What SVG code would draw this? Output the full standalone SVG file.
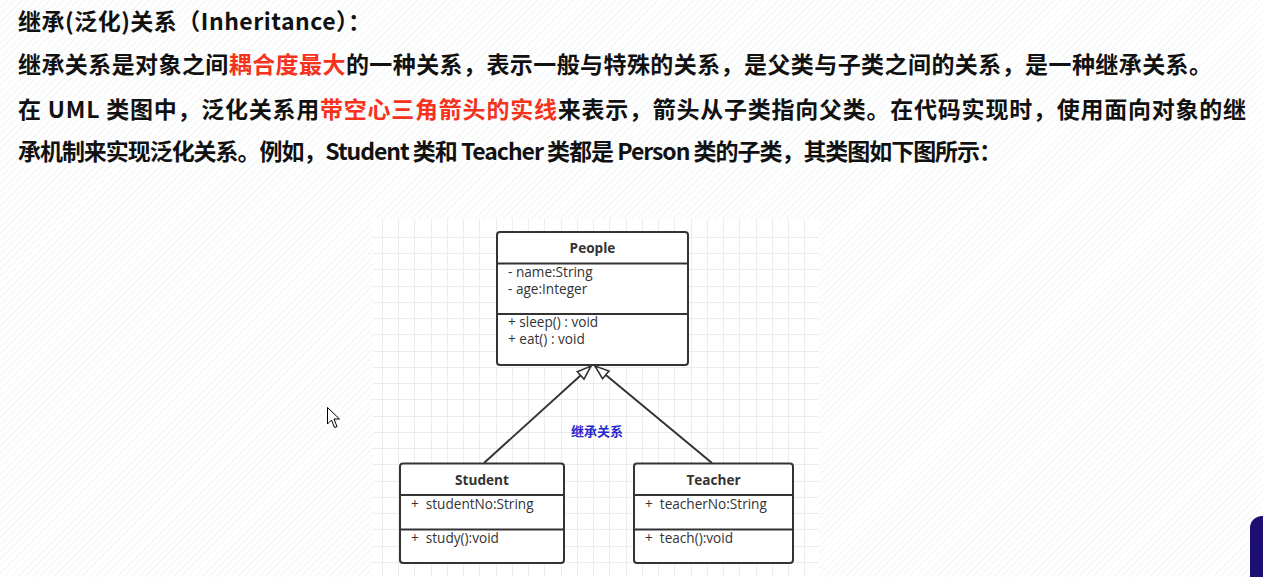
<svg xmlns="http://www.w3.org/2000/svg" width="1263" height="577" viewBox="0 0 1263 577">
<style>
.h{font-family:"Noto Sans CJK SC","Microsoft YaHei",sans-serif;font-weight:bold;font-size:23px;fill:#111}
.r{fill:#f5321c}
.box{fill:#fff;stroke:#333;stroke-width:2}
.div{stroke:#333;stroke-width:2}
.t{font-family:"Open Sans","Noto Sans",sans-serif;font-size:13.6px;fill:#333}
.b{font-weight:bold;text-anchor:middle}
.conn{stroke:#333;stroke-width:2;fill:none}
.grid{stroke:#ececec;stroke-width:1}
</style>
<defs>
<pattern id="hatch" width="5" height="5" patternUnits="userSpaceOnUse" patternTransform="rotate(45)">
<line x1="0" y1="0" x2="0" y2="5" stroke="#eef2f2" stroke-width="1.5"/>
</pattern>
<marker id="tri" markerUnits="userSpaceOnUse" markerWidth="20" markerHeight="16" refX="15" refY="6" orient="auto">
<path d="M1,1 L15,6 L1,11 Z" fill="#fff" stroke="#333" stroke-width="1.6"/>
</marker>
</defs>
<rect width="1263" height="577" fill="#fff"/>
<rect width="1263" height="577" fill="url(#hatch)"/>
<g id="heading">
<text class="h" x="18" y="30" textLength="353">继承(泛化)关系（Inheritance）：</text>
<text class="h" x="18" y="73" textLength="1194">继承关系是对象之间<tspan class="r">耦合度最大</tspan>的一种关系，表示一般与特殊的关系，是父类与子类之间的关系，是一种继承关系。</text>
<text class="h" x="18" y="118" textLength="1228">在 UML 类图中，泛化关系用<tspan class="r">带空心三角箭头的实线</tspan>来表示，箭头从子类指向父类。在代码实现时，使用面向对象的继</text>
<text class="h" x="18" y="160" textLength="984">承机制来实现泛化关系。例如，Student 类和 Teacher 类都是 Person 类的子类，其类图如下图所示：</text>
</g>
<g id="canvas">
<rect x="373" y="219" width="446" height="358" fill="#fff"/>
<path class="grid" d="M382.5,219V577M398.5,219V577M414.5,219V577M431.5,219V577M447.5,219V577M463.5,219V577M479.5,219V577M496.5,219V577M512.5,219V577M528.5,219V577M544.5,219V577M561.5,219V577M577.5,219V577M593.5,219V577M609.5,219V577M626.5,219V577M642.5,219V577M658.5,219V577M674.5,219V577M691.5,219V577M707.5,219V577M723.5,219V577M739.5,219V577M756.5,219V577M772.5,219V577M788.5,219V577M804.5,219V577
M373,237.5H819M373,253.5H819M373,269.5H819M373,286.5H819M373,302.5H819M373,318.5H819M373,334.5H819M373,351.5H819M373,367.5H819M373,383.5H819M373,399.5H819M373,416.5H819M373,432.5H819M373,448.5H819M373,464.5H819M373,481.5H819M373,497.5H819M373,513.5H819M373,529.5H819M373,546.5H819M373,562.5H819"/>
</g>
<g id="connectors">
<line class="conn" x1="484" y1="463" x2="591" y2="366" marker-end="url(#tri)"/>
<line class="conn" x1="712" y1="463" x2="595" y2="366" marker-end="url(#tri)"/>
<text x="597" y="436" font-family="Noto Sans CJK SC,sans-serif" font-size="13" font-weight="bold" fill="#2626d0" text-anchor="middle">继承关系</text>
</g>
<g id="People">
<rect class="box" x="497" y="232" width="191" height="133" rx="3"/>
<line class="div" x1="497" y1="263.5" x2="688" y2="263.5"/>
<line class="div" x1="497" y1="314" x2="688" y2="314"/>
<text class="t b" x="592.5" y="253">People</text>
<text class="t" x="508" y="277">- name:String</text>
<text class="t" x="508" y="294">- age:Integer</text>
<text class="t" x="508" y="327">+ sleep() : void</text>
<text class="t" x="508" y="344">+ eat() : void</text>
</g>
<g id="Student">
<rect class="box" x="400" y="463.5" width="164" height="99.5" rx="3"/>
<line class="div" x1="400" y1="495" x2="564" y2="495"/>
<line class="div" x1="400" y1="529.5" x2="564" y2="529.5"/>
<text class="t b" x="482" y="485">Student</text>
<text class="t" x="411" y="509">+<tspan dx="7">studentNo:String</tspan></text>
<text class="t" x="411" y="543">+<tspan dx="7">study():void</tspan></text>
</g>
<g id="Teacher">
<rect class="box" x="634" y="463.5" width="159" height="99.5" rx="3"/>
<line class="div" x1="634" y1="495" x2="793" y2="495"/>
<line class="div" x1="634" y1="529.5" x2="793" y2="529.5"/>
<text class="t b" x="713.5" y="485">Teacher</text>
<text class="t" x="645" y="509">+<tspan dx="7">teacherNo:String</tspan></text>
<text class="t" x="645" y="543">+<tspan dx="7">teach():void</tspan></text>
</g>
<path d="M327.5,407.5 V424 L331.5,420 L334.5,427.5 L337,426.5 L334,419 L339.5,419 Z" fill="#fff" stroke="#000" stroke-width="1"/>
<rect x="1250" y="516" width="30" height="80" rx="12" fill="#1d0e72"/>
</svg>
